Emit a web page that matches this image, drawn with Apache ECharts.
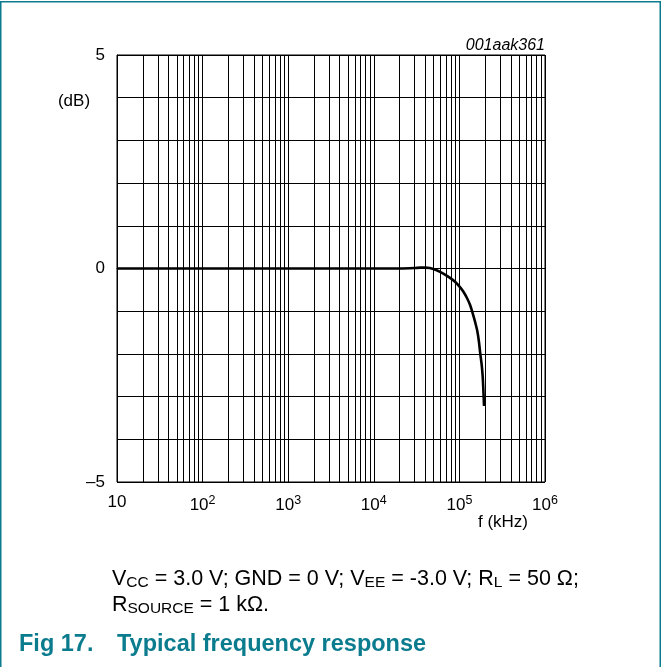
<!DOCTYPE html>
<html>
<head>
<meta charset="utf-8">
<script src="https://cdn.jsdelivr.net/npm/echarts@6/dist/echarts.min.js"></script>
<style>
html,body{margin:0;padding:0;background:#fff;}
#chart{width:662px;height:667px;}
</style>
</head>
<body>
<div id="chart"></div>
<script>
// ---- data ----
const freqKHz = [10, 100, 1000, 10000, 20000, 30000, 35000, 40000, 45000, 54300, 64900, 77700, 88900, 101600, 111000, 121700, 133000, 143000, 152000, 162000, 169000, 175000, 182000, 187000, 190000, 194000];
const gainDB  = [0,  0,   0,    0,     0,     0.01,  0.02,  0.02,  0.01,  -0.04, -0.12, -0.22, -0.31, -0.435, -0.54,  -0.68,  -0.85,  -1.05,  -1.24,  -1.47,  -1.71,  -1.98,  -2.25,  -2.52,  -2.79,  -3.22];
const xTickLabels = {1: '10', 2: '10{sup|2}', 3: '10{sup|3}', 4: '10{sup|4}', 5: '10{sup|5}', 6: '10{sup|6}'};
const yTickLabels = {'5': '5', '0': '0', '-5': '\u20135'};
const xAxisName = 'f (kHz)';
const yAxisName = '(dB)';
const figCode = '001aak361';
const noteLine1 = 'V{sub|CC} = 3.0 V; GND = 0 V; V{sub|EE} = -3.0 V; R{sub|L} = 50 \u03A9;';
const noteLine2 = 'R{sub|SOURCE} = 1 k\u03A9.';
const figNumber = 'Fig 17.';
const figTitle = 'Typical frequency response';

// minor log grid values (2..9 per decade)
const minorGrid = [];
for (let d = 10; d < 1e6; d *= 10) {
  for (let k = 2; k <= 9; k++) minorGrid.push(d * k);
}

const FONT = '"Liberation Sans", Arial, sans-serif';
const TEAL = '#0b7b8e';
const subStyle = {fontSize: 15.5, fontFamily: FONT, fill: '#000', verticalAlign: 'bottom', padding: [7, 0, 0, 0]};

const chart = echarts.init(document.getElementById('chart'), null, {renderer: 'canvas'});
chart.setOption({
  animation: false,
  backgroundColor: '#fff',
  grid: {left: 117, right: 117, top: 55, bottom: 185, show: true, borderColor: '#000', borderWidth: 1, backgroundColor: 'transparent'},
  xAxis: {
    type: 'log', logBase: 10, min: 10, max: 1e6,
    axisLine: {show: true, lineStyle: {color: '#000', width: 1}},
    axisTick: {show: false},
    splitLine: {show: true, lineStyle: {color: '#000', width: 1}},
    axisLabel: {
      margin: 12, color: '#000', fontFamily: FONT, fontSize: 17,
      formatter: v => xTickLabels[Math.round(Math.log10(v))] || '',
      rich: {sup: {fontSize: 12.5, fontFamily: FONT, color: '#000', verticalAlign: 'top', padding: [0, 0, 9, 0]}}
    }
  },
  yAxis: {
    type: 'value', min: -5, max: 5, interval: 1,
    axisLine: {show: true, lineStyle: {color: '#000', width: 1}},
    axisTick: {show: false},
    splitLine: {show: true, lineStyle: {color: '#000', width: 1}},
    axisLabel: {
      margin: 12, color: '#000', fontFamily: FONT, fontSize: 17,
      formatter: v => yTickLabels[String(Math.round(v))] || ''
    }
  },
  series: [{
    type: 'line',
    data: freqKHz.map((f, i) => [f, gainDB[i]]),
    showSymbol: false,
    smooth: 0.3,
    lineStyle: {color: '#000', width: 2.6},
    silent: true,
    markLine: {
      silent: true, symbol: 'none', label: {show: false},
      lineStyle: {color: '#000', width: 1, type: 'solid'},
      data: minorGrid.map(v => ({xAxis: v}))
    },
    z: 5
  }],
  graphic: [
    {type: 'rect', shape: {x: 0.75, y: 1.75, width: 659.5, height: 700}, style: {fill: 'none', stroke: TEAL, lineWidth: 1.5}, silent: true},
    {type: 'text', x: 545, y: 46, style: {text: figCode, font: 'italic 16px ' + FONT, fill: '#000', textAlign: 'right', textVerticalAlign: 'middle'}},
    {type: 'text', x: 74, y: 101, style: {text: yAxisName, font: '17px ' + FONT, fill: '#000', textAlign: 'center', textVerticalAlign: 'middle'}},
    {type: 'text', x: 528, y: 522, style: {text: xAxisName, font: '17px ' + FONT, fill: '#000', textAlign: 'right', textVerticalAlign: 'middle'}},
    {type: 'text', x: 112, y: 579, style: {text: noteLine1, font: '21.5px ' + FONT, fill: '#000', textVerticalAlign: 'middle', rich: {sub: subStyle}}},
    {type: 'text', x: 112, y: 605, style: {text: noteLine2, font: '21.5px ' + FONT, fill: '#000', textVerticalAlign: 'middle', rich: {sub: subStyle}}},
    {type: 'text', x: 19, y: 645, style: {text: figNumber, font: 'bold 23.5px ' + FONT, fill: TEAL, textVerticalAlign: 'middle'}},
    {type: 'text', x: 117, y: 645, style: {text: figTitle, font: 'bold 23.5px ' + FONT, fill: TEAL, textVerticalAlign: 'middle'}}
  ]
});
</script>
</body>
</html>
